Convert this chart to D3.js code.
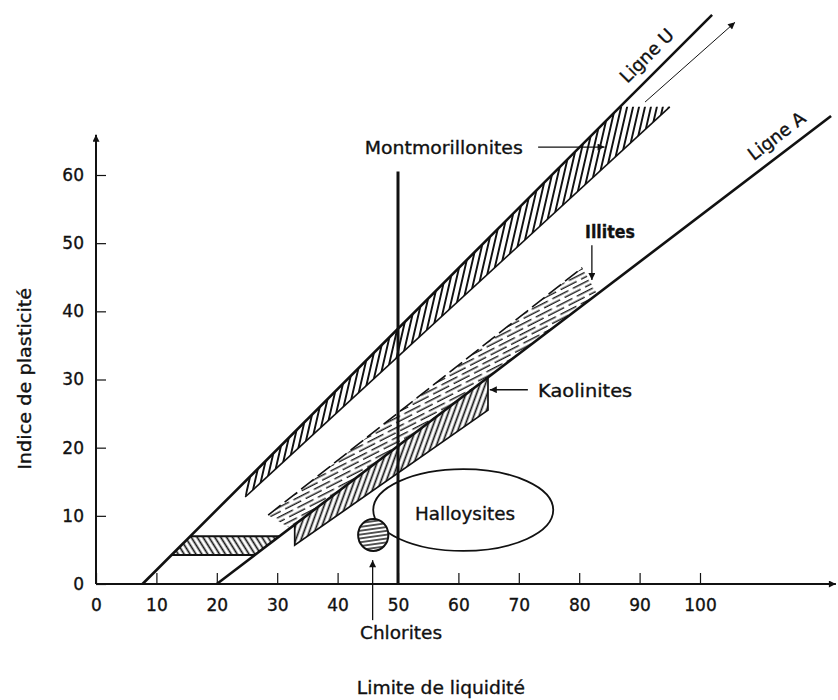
<!DOCTYPE html>
<html>
<head>
<meta charset="utf-8">
<script src="https://cdn.jsdelivr.net/npm/d3@7"></script>
<style>
  html, body { margin: 0; padding: 0; background: #fff; }
  svg { display: block; }
  text { font-family: "DejaVu Sans", sans-serif; fill: #111; stroke: #111; stroke-width: 0.35px; }
</style>
</head>
<body>
<script>
// ---------------- DATA (liquid limit LL, plasticity index PI) ----------------
const xTicks = [0, 10, 20, 30, 40, 50, 60, 70, 80, 90, 100];
const yTicks = [0, 10, 20, 30, 40, 50, 60];
const axisEnd = { ll: 122.5, pi: 65.9 };

const ligneU = [[7.7, 0], [102, 83.5]];
const ligneA = [[20, 0], [121.7, 68.65]];
const ligne50 = [[50, 0], [50, 60.5]];

const montmorillonites = [[24.7, 15.05], [86.75, 70], [95, 70], [24.7, 12.76]];
const montLowerEdge = [[24.7, 12.76], [95, 70]];
const montContinuation = [[90.9, 70.7], [105.8, 82.4]];

const illites = [[28.5, 10.1], [80.5, 46.4], [83, 42.5], [32.1, 8.2]];
const illiteUpperEdge = [[28.5, 10.1], [80.5, 46.4]];

const kaolinites = [[32.9, 8.7], [64.9, 30.3], [64.9, 25.5], [32.9, 5.7]];
const kaoliniteEdges = [[32.9, 8.7], [32.9, 5.7], [64.9, 25.5], [64.9, 30.3]];

const clml = [[12.5, 4.25], [15.6, 7], [30.4, 7], [26.3, 4.25]];
const clmlTop = [[15.6, 7], [30.4, 7]];
const clmlBottom = [[12.5, 4.25], [26.3, 4.25]];

const chlorites = { ll: 45.9, pi: 7.2, rLL: 2.5, rPI: 2.35 };
const halloysites = { ll: 60.8, pi: 10.85, rLL: 14.9, rPI: 6.0 };

const pointerArrows = [
  [[73.2, 64.1], [84.2, 64.1]],   // Montmorillonites
  [[82.1, 49.7], [82.1, 44.6]],   // Illites
  [[71.5, 28.5], [65.2, 28.5]],   // Kaolinites
  [[45.8, -5.3], [45.8, 3.5]]     // Chlorites
];

const labels = [
  { text: "Montmorillonites", ll: 44.5, pi: 63.1, anchor: "start", len: 158 },
  { text: "Illites", ll: 85.1, pi: 50.8, anchor: "middle", len: 50, serif: true },
  { text: "Kaolinites", ll: 73.2, pi: 27.5, anchor: "start", len: 94 },
  { text: "Halloysites", ll: 61.1, pi: 9.46, anchor: "middle", len: 100 },
  { text: "Chlorites", ll: 50.5, pi: -8.1, anchor: "middle", len: 82 }
];
const xTitle = { text: "Limite de liquidité", ll: 57.1, pi: -16.1, len: 168 };
const yTitle = { text: "Indice de plasticité", ll: -10.8, pi: 30.1, len: 182 };
const lineLabels = [
  { text: "Ligne U", line: ligneU, at: 93.2 },
  { text: "Ligne A", line: ligneA, at: 114.4 }
];

// ---------------- SCALES ----------------
const W = 838, H = 700;
const x = d3.scaleLinear().domain([0, 100]).range([96, 700]);
const y = d3.scaleLinear().domain([0, 60]).range([584, 175]);
const ink = "#111";

const svg = d3.select("body").append("svg").attr("width", W).attr("height", H);
const defs = svg.append("defs");

// hatch patterns
function hatch(id, spacing, angle, sw, dash) {
  const tw = dash ? dash[0] + dash[1] : spacing * 4;
  const p = defs.append("pattern").attr("id", id)
    .attr("patternUnits", "userSpaceOnUse")
    .attr("width", tw).attr("height", dash ? spacing * 2 : spacing)
    .attr("patternTransform", `rotate(${angle})`);
  const seg = (x1, x2, yy) => p.append("line").attr("x1", x1).attr("x2", x2)
    .attr("y1", yy).attr("y2", yy).attr("stroke", ink).attr("stroke-width", sw);
  if (dash) {
    seg(0, dash[0], spacing / 2);
    seg(tw / 2, tw / 2 + dash[0], spacing * 1.5);
    seg(tw / 2 - tw, tw / 2 + dash[0] - tw, spacing * 1.5);
  } else {
    seg(0, tw, spacing / 2);
  }
}
hatch("hMont", 5.8, -77, 1.9);
hatch("hKao", 5, -70, 1.7);
hatch("hClml", 5, 58, 1.7);
hatch("hIll", 4.4, -27, 1.35, [18, 5]);
hatch("hChl", 3.8, -8, 1.4);

defs.append("marker").attr("id", "arrow")
  .attr("viewBox", "0 0 10 10").attr("refX", 10).attr("refY", 5)
  .attr("markerWidth", 9).attr("markerHeight", 7)
  .attr("markerUnits", "userSpaceOnUse").attr("orient", "auto")
  .append("path").attr("d", "M0,0 L10,5 L0,10 Z").attr("fill", ink);

const line = d3.line().x(d => x(d[0])).y(d => y(d[1]));
const poly = pts => line(pts) + "Z";

// ---------------- AXES ----------------
const gx = svg.append("g").attr("transform", `translate(0,${y(0)})`)
  .call(d3.axisBottom(x).tickValues(xTicks).tickSizeInner(-11).tickSizeOuter(0).tickPadding(15));
const gy = svg.append("g").attr("transform", `translate(${x(0)},0)`)
  .call(d3.axisLeft(y).tickValues(yTicks).tickSizeInner(-10).tickSizeOuter(0).tickPadding(12));
[gx, gy].forEach(g => {
  g.select(".domain").remove();
  g.selectAll(".tick line").attr("stroke", ink).attr("stroke-width", 1.2);
  g.selectAll(".tick text").attr("font-size", 17).attr("font-family", "DejaVu Sans, sans-serif")
    .attr("fill", ink).attr("stroke", ink).attr("stroke-width", 0.6);
});

svg.append("path").attr("d", line([[0, 0], [axisEnd.ll, 0]]))
  .attr("stroke", ink).attr("stroke-width", 2).attr("fill", "none").attr("marker-end", "url(#arrow)");
svg.append("path").attr("d", line([[0, 0], [0, axisEnd.pi]]))
  .attr("stroke", ink).attr("stroke-width", 2).attr("fill", "none").attr("marker-end", "url(#arrow)");

// ---------------- ZONES ----------------
svg.append("path").attr("d", poly(clml)).attr("fill", "url(#hClml)");
svg.append("path").attr("d", poly(montmorillonites)).attr("fill", "url(#hMont)");
svg.append("path").attr("d", poly(illites)).attr("fill", "url(#hIll)");
svg.append("path").attr("d", poly(kaolinites)).attr("fill", "url(#hKao)");

const edge = (pts, sw, dash) => svg.append("path").attr("d", line(pts))
  .attr("stroke", ink).attr("stroke-width", sw).attr("fill", "none")
  .attr("stroke-dasharray", dash || null);
edge(montLowerEdge, 1.6);
edge(illiteUpperEdge, 1.6, "16 5");
edge(kaoliniteEdges, 1.7);
edge(clmlTop, 2);
edge(clmlBottom, 2);

// Halloysites ellipse
svg.append("ellipse")
  .attr("cx", x(halloysites.ll)).attr("cy", y(halloysites.pi))
  .attr("rx", x(halloysites.rLL) - x(0)).attr("ry", y(0) - y(halloysites.rPI))
  .attr("fill", "none").attr("stroke", ink).attr("stroke-width", 1.8);

// main lines
edge(ligneU, 2.6);
edge(ligneA, 2.6);
edge(ligne50, 3);

// Chlorites circle
const chl = () => svg.append("ellipse")
  .attr("cx", x(chlorites.ll)).attr("cy", y(chlorites.pi))
  .attr("rx", x(chlorites.rLL) - x(0)).attr("ry", y(0) - y(chlorites.rPI));
chl().attr("fill", "#fff");
chl().attr("fill", "url(#hChl)").attr("stroke", ink).attr("stroke-width", 2);

// arrows
svg.append("path").attr("d", line(montContinuation))
  .attr("stroke", ink).attr("stroke-width", 1).attr("fill", "none").attr("marker-end", "url(#arrow)");
pointerArrows.forEach(a => {
  svg.append("path").attr("d", line(a)).attr("stroke", ink).attr("stroke-width", 1.3)
    .attr("fill", "none").attr("marker-end", "url(#arrow)");
});

// ---------------- TEXT ----------------
labels.forEach(l => {
  svg.append("text").attr("x", x(l.ll)).attr("y", y(l.pi))
    .attr("text-anchor", l.anchor).attr("font-size", 18)
    .attr("font-family", l.serif ? "Liberation Serif, serif" : "DejaVu Sans, sans-serif")
    .attr("font-weight", l.serif ? "bold" : "normal")
    .attr("textLength", l.len).attr("lengthAdjust", "spacingAndGlyphs")
    .text(l.text);
});
svg.append("text").attr("x", x(xTitle.ll)).attr("y", y(xTitle.pi))
  .attr("text-anchor", "middle").attr("font-size", 18)
  .attr("textLength", xTitle.len).attr("lengthAdjust", "spacingAndGlyphs")
  .text(xTitle.text);
svg.append("text")
  .attr("transform", `translate(${x(yTitle.ll)},${y(yTitle.pi)}) rotate(-90)`)
  .attr("text-anchor", "middle").attr("font-size", 18)
  .attr("textLength", yTitle.len).attr("lengthAdjust", "spacingAndGlyphs")
  .text(yTitle.text);

lineLabels.forEach(l => {
  const [p0, p1] = l.line;
  const pi = p0[1] + (l.at - p0[0]) * (p1[1] - p0[1]) / (p1[0] - p0[0]);
  const ang = Math.atan2(y(p1[1]) - y(p0[1]), x(p1[0]) - x(p0[0])) * 180 / Math.PI;
  svg.append("text")
    .attr("transform", `translate(${x(l.at)},${y(pi)}) rotate(${ang})`)
    .attr("dy", -11).attr("text-anchor", "middle").attr("font-size", 18)
    .text(l.text);
});
</script>
</body>
</html>
